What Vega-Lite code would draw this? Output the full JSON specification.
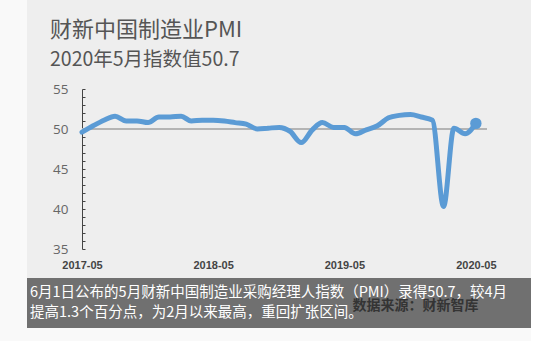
{
  "$schema": "https://vega.github.io/schema/vega-lite/v6.json",
  "autosize": {"type": "pad"},
  "padding": {"left": 27, "top": 0, "right": 0, "bottom": 13},
  "background": "#f9f9f9",
  "bounds": "flush",
  "spacing": 0,
  "config": {"font": "Noto Sans CJK SC", "axis": {"labelOverlap": false}},
  "datasets": {
    "pmi": [
      {"month": "2017-05-01", "pmi": 49.6},
      {"month": "2017-06-01", "pmi": 50.4},
      {"month": "2017-07-01", "pmi": 51.1},
      {"month": "2017-08-01", "pmi": 51.6},
      {"month": "2017-09-01", "pmi": 51.0},
      {"month": "2017-10-01", "pmi": 51.0},
      {"month": "2017-11-01", "pmi": 50.8},
      {"month": "2017-12-01", "pmi": 51.5},
      {"month": "2018-01-01", "pmi": 51.5},
      {"month": "2018-02-01", "pmi": 51.6},
      {"month": "2018-03-01", "pmi": 51.0},
      {"month": "2018-04-01", "pmi": 51.1},
      {"month": "2018-05-01", "pmi": 51.1},
      {"month": "2018-06-01", "pmi": 51.0},
      {"month": "2018-07-01", "pmi": 50.8},
      {"month": "2018-08-01", "pmi": 50.6},
      {"month": "2018-09-01", "pmi": 50.0},
      {"month": "2018-10-01", "pmi": 50.1},
      {"month": "2018-11-01", "pmi": 50.2},
      {"month": "2018-12-01", "pmi": 49.7},
      {"month": "2019-01-01", "pmi": 48.3},
      {"month": "2019-02-01", "pmi": 49.9},
      {"month": "2019-03-01", "pmi": 50.8},
      {"month": "2019-04-01", "pmi": 50.2},
      {"month": "2019-05-01", "pmi": 50.2},
      {"month": "2019-06-01", "pmi": 49.4},
      {"month": "2019-07-01", "pmi": 49.9},
      {"month": "2019-08-01", "pmi": 50.4},
      {"month": "2019-09-01", "pmi": 51.4},
      {"month": "2019-10-01", "pmi": 51.7},
      {"month": "2019-11-01", "pmi": 51.8},
      {"month": "2019-12-01", "pmi": 51.5},
      {"month": "2020-01-01", "pmi": 51.1},
      {"month": "2020-02-01", "pmi": 40.3},
      {"month": "2020-03-01", "pmi": 50.1},
      {"month": "2020-04-01", "pmi": 49.4},
      {"month": "2020-05-01", "pmi": 50.7}
    ]
  },
  "vconcat": [
    {
      "width": 504,
      "height": 278,
      "view": {"fill": "#eeeeee", "stroke": null},
      "title": {
        "text": "财新中国制造业PMI",
        "subtitle": "2020年5月指数值50.7",
        "orient": "top",
        "anchor": "start",
        "frame": "group",
        "offset": -70,
        "dx": 23,
        "font": "Noto Sans CJK SC",
        "fontSize": 22,
        "fontWeight": "normal",
        "color": "#555555",
        "subtitleFont": "Noto Sans CJK SC",
        "subtitleFontSize": 19.5,
        "subtitleColor": "#555555",
        "subtitlePadding": 9
      },
      "data": {"name": "pmi"},
      "encoding": {
        "x": {
          "field": "month",
          "type": "temporal",
          "scale": {
            "type": "utc",
            "domain": [
              {"year": 2017, "month": 5, "date": 1, "utc": true},
              {"year": 2020, "month": 6, "date": 1, "utc": true}
            ],
            "range": [55, 460]
          },
          "axis": {
            "orient": "bottom",
            "offset": -19,
            "values": [
              {"year": 2017, "month": 5, "date": 1, "utc": true},
              {"year": 2018, "month": 5, "date": 1, "utc": true},
              {"year": 2019, "month": 5, "date": 1, "utc": true},
              {"year": 2020, "month": 5, "date": 1, "utc": true}
            ],
            "format": "%Y-%m",
            "domain": false,
            "ticks": false,
            "grid": false,
            "labelPadding": 0,
            "labelFlush": false,
            "labelFont": "Liberation Sans",
            "labelFontWeight": "bold",
            "labelFontSize": 11,
            "labelColor": "#444444",
            "title": "数据来源：财新智库",
            "titleX": 388,
            "titleY": 46,
            "titleAlign": "center",
            "titleBaseline": "middle",
            "titleFont": "Noto Sans CJK SC",
            "titleFontSize": 14,
            "titleFontWeight": "bold",
            "titleColor": "#262626"
          }
        },
        "y": {
          "field": "pmi",
          "type": "quantitative",
          "scale": {"domain": [35, 55], "range": [249, 89], "nice": false, "zero": false},
          "axis": {
            "orient": "left",
            "offset": -55,
            "values": [35, 36, 37, 38, 39, 40, 41, 42, 43, 44, 45, 46, 47, 48, 49, 50, 51, 52, 53, 54, 55],
            "labelExpr": "datum.value % 5 === 0 ? datum.label : ''",
            "labelOverlap": false,
            "grid": false,
            "tickSize": -3,
            "tickColor": "#444444",
            "domainColor": "#444444",
            "labelPadding": 17,
            "labelFlush": false,
            "labelFont": "Open Sans",
            "labelFontSize": 13.5,
            "labelColor": "#666666",
            "title": null
          }
        }
      },
      "layer": [
        {
          "mark": {"type": "rule", "color": "#b5b5b5", "strokeWidth": 1.5},
          "encoding": {
            "x": {"datum": {"year": 2017, "month": 5, "date": 1, "utc": true}, "type": "temporal"},
            "x2": {"datum": {"year": 2020, "month": 6, "date": 1, "utc": true}},
            "y": {"datum": 50, "type": "quantitative"}
          }
        },
        {
          "mark": {
            "type": "line",
            "color": "#5b9bd5",
            "strokeWidth": 5,
            "interpolate": "monotone",
            "strokeCap": "round",
            "strokeJoin": "round"
          }
        },
        {
          "transform": [{"filter": "time(datum.month) === utc(2020, 4, 1)"}],
          "mark": {"type": "point", "filled": true, "size": 130, "color": "#5b9bd5", "opacity": 1}
        }
      ]
    },
    {
      "width": 504,
      "height": 50,
      "view": {"fill": "#3a3a3a", "fillOpacity": 0.72, "stroke": null},
      "title": {
        "text": [
          "6月1日公布的5月财新中国制造业采购经理人指数（PMI）录得50.7，较4月",
          "提高1.3个百分点，为2月以来最高，重回扩张区间。"
        ],
        "orient": "top",
        "anchor": "start",
        "frame": "group",
        "offset": -42,
        "dx": 3,
        "baseline": "top",
        "lineHeight": 20,
        "font": "Noto Sans CJK SC",
        "fontSize": 14.5,
        "fontWeight": "normal",
        "color": "#ffffff"
      },
      "data": {"values": [{}]},
      "mark": {"type": "text", "text": ""}
    }
  ]
}
